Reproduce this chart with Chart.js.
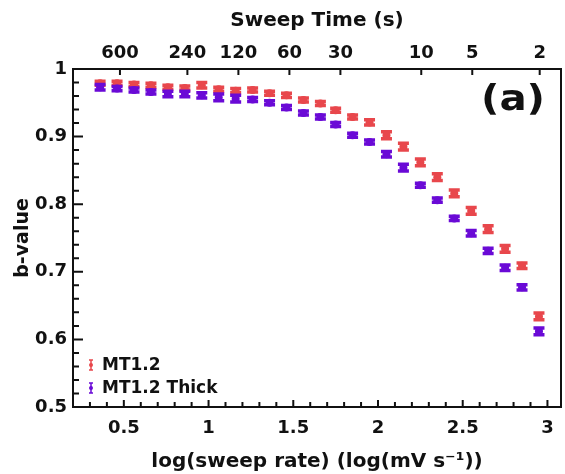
<!DOCTYPE html>
<html>
<head>
<meta charset="utf-8">
<script src="https://cdn.jsdelivr.net/npm/chart.js@4.4.0/dist/chart.umd.min.js"></script>
<style>
  html, body { margin: 0; padding: 0; background: #fff; }
  #wrap { width: 565px; height: 474px; }
</style>
</head>
<body>
<div id="wrap"><canvas id="bplot"></canvas></div>
<script>
// log10 of the sweep rate (mV/s)
var logRate = [0.36, 0.46, 0.56, 0.66, 0.76, 0.86, 0.96, 1.06, 1.16, 1.26, 1.36, 1.46, 1.56, 1.66,
  1.75, 1.85, 1.95, 2.05, 2.15, 2.25, 2.35, 2.45, 2.55, 2.65, 2.75, 2.85, 2.95];

// b-values and their errors
var bMT12 = [0.979, 0.979, 0.977, 0.976, 0.973, 0.972, 0.976, 0.970, 0.968, 0.969, 0.964, 0.961, 0.954, 0.949,
  0.939, 0.929, 0.921, 0.902, 0.885, 0.862, 0.840, 0.816, 0.790, 0.763, 0.734, 0.709, 0.634];
var errMT12 = [0.003, 0.003, 0.003, 0.003, 0.003, 0.003, 0.004, 0.003, 0.003, 0.003, 0.003, 0.003, 0.003, 0.003,
  0.003, 0.003, 0.004, 0.005, 0.005, 0.005, 0.005, 0.005, 0.005, 0.005, 0.005, 0.004, 0.005];
var bThick = [0.973, 0.971, 0.969, 0.966, 0.963, 0.963, 0.961, 0.958, 0.956, 0.955, 0.950, 0.943, 0.935, 0.929,
  0.918, 0.902, 0.892, 0.874, 0.854, 0.828, 0.806, 0.779, 0.757, 0.731, 0.706, 0.677, 0.612];
var errThick = [0.004, 0.003, 0.003, 0.003, 0.004, 0.004, 0.004, 0.005, 0.005, 0.003, 0.003, 0.003, 0.003, 0.003,
  0.003, 0.003, 0.003, 0.004, 0.005, 0.003, 0.003, 0.003, 0.004, 0.004, 0.004, 0.004, 0.005];

// top axis: sweep time for a 1800 mV window
var sweepTimes = [600, 240, 120, 60, 30, 10, 5, 2];
var windowMV = 1800;

var RED = '#e8474c', PURPLE = '#6a0ad6', INK = '#111';
var FONT = 'DejaVu Sans';

function isMajor(v, step) {
  return Math.abs(v / step - Math.round(v / step)) < 1e-6;
}

function points(ys) {
  return logRate.map(function(x, i) { return { x: x, y: ys[i] }; });
}

// vertical error bars with wide caps, drawn under each dataset's points
var errorBars = {
  id: 'errorBars',
  beforeDatasetDraw: function(chart, args) {
    var ds = chart.data.datasets[args.index];
    var ys = chart.scales.y, ctx = chart.ctx;
    ctx.save();
    ctx.strokeStyle = ds.backgroundColor;
    ctx.lineCap = 'butt';
    args.meta.data.forEach(function(el, i) {
      var v = ds.data[i].y, e = ds.errors[i];
      var top = ys.getPixelForValue(v + e), bot = ys.getPixelForValue(v - e);
      ctx.lineWidth = 4;
      ctx.beginPath(); ctx.moveTo(el.x, top); ctx.lineTo(el.x, bot); ctx.stroke();
      ctx.lineWidth = 3.5;
      ctx.beginPath();
      ctx.moveTo(el.x - 5.5, top); ctx.lineTo(el.x + 5.5, top);
      ctx.moveTo(el.x - 5.5, bot); ctx.lineTo(el.x + 5.5, bot);
      ctx.stroke();
    });
    ctx.restore();
  }
};

// box frame plus inward tick marks on three sides
var frame = {
  id: 'frame',
  afterDraw: function(chart) {
    var ctx = chart.ctx, a = chart.chartArea;
    ctx.save();
    ctx.strokeStyle = INK;
    ctx.lineWidth = 2;
    ctx.beginPath();
    chart.scales.y.ticks.forEach(function(t) {
      var y = chart.scales.y.getPixelForValue(t.value);
      var len = isMajor(t.value, 0.1) ? 10 : 6;
      ctx.moveTo(a.left, y); ctx.lineTo(a.left + len, y);
    });
    chart.scales.x.ticks.forEach(function(t) {
      var x = chart.scales.x.getPixelForValue(t.value);
      var len = isMajor(t.value, 0.5) ? 7 : 5;
      ctx.moveTo(x, a.bottom); ctx.lineTo(x, a.bottom - len);
    });
    chart.scales.x2.ticks.forEach(function(t) {
      var x = chart.scales.x2.getPixelForValue(t.value);
      ctx.moveTo(x, a.top); ctx.lineTo(x, a.top + 6);
    });
    ctx.stroke();
    ctx.strokeRect(a.left, a.top, a.right - a.left, a.bottom - a.top);
    ctx.restore();
  }
};

// legend in the lower left corner and the panel letter
var notes = {
  id: 'notes',
  afterDraw: function(chart) {
    var ctx = chart.ctx, a = chart.chartArea;
    ctx.save();
    chart.data.datasets.forEach(function(ds, i) {
      var x = a.left + 18, y = a.bottom - 42 + i * 23;
      ctx.strokeStyle = ds.backgroundColor;
      ctx.fillStyle = ds.backgroundColor;
      ctx.lineWidth = 1.5;
      ctx.beginPath();
      ctx.moveTo(x, y - 5); ctx.lineTo(x, y + 5);
      ctx.moveTo(x - 2, y - 5); ctx.lineTo(x + 2, y - 5);
      ctx.moveTo(x - 2, y + 5); ctx.lineTo(x + 2, y + 5);
      ctx.stroke();
      ctx.beginPath(); ctx.arc(x, y, 2, 0, Math.PI * 2); ctx.fill();
      ctx.fillStyle = INK;
      ctx.font = 'bold 17px "' + FONT + '"';
      ctx.textAlign = 'left';
      ctx.textBaseline = 'middle';
      ctx.fillText(ds.label, x + 11, y + 1);
    });
    ctx.fillStyle = INK;
    ctx.font = 'bold 36px "' + FONT + '"';
    ctx.textAlign = 'center';
    ctx.textBaseline = 'middle';
    ctx.translate(a.right - 48, a.top + 32);
    ctx.scale(1.12, 1);
    ctx.fillText('(a)', 0, 0);
    ctx.restore();
  }
};

var tickFont = { family: FONT, size: 18, weight: 'bold' };
var titleFont = { family: FONT, size: 20, weight: 'bold' };

new Chart(document.getElementById('bplot'), {
  type: 'scatter',
  data: {
    datasets: [{
      label: 'MT1.2',
      data: points(bMT12),
      errors: errMT12,
      backgroundColor: RED,
      borderWidth: 0,
      pointRadius: 4,
      order: 2
    }, {
      label: 'MT1.2 Thick',
      data: points(bThick),
      errors: errThick,
      backgroundColor: PURPLE,
      borderWidth: 0,
      pointRadius: 4,
      order: 1
    }]
  },
  options: {
    responsive: true,
    maintainAspectRatio: false,
    animation: false,
    layout: { padding: { top: 0, right: 2, bottom: 0, left: 0 } },
    plugins: { legend: { display: false }, tooltip: { enabled: false } },
    scales: {
      x: {
        type: 'linear', position: 'bottom', min: 0.2, max: 3.08,
        afterBuildTicks: function(s) {
          var t = [];
          for (var i = 3; i <= 30; i++) t.push({ value: i / 10 });
          s.ticks = t;
        },
        afterFit: function(s) { s.height = 67; },
        grid: { display: false, drawTicks: false },
        border: { display: false },
        ticks: {
          autoSkip: false, maxRotation: 0, padding: 11, color: INK, font: tickFont,
          callback: function(v) { return isMajor(v, 0.5) ? String(Math.round(v * 10) / 10) : ''; }
        },
        title: { display: true, text: 'log(sweep rate) (log(mV s⁻¹))', color: INK, font: titleFont,
          padding: { top: 0, bottom: 0 } }
      },
      x2: {
        type: 'linear', position: 'top', min: 0.2, max: 3.08,
        afterBuildTicks: function(s) {
          s.ticks = sweepTimes.map(function(t) { return { value: Math.log10(windowMV / t) }; });
        },
        afterFit: function(s) { s.height = 69; },
        grid: { display: false, drawTicks: false },
        border: { display: false },
        ticks: {
          autoSkip: false, maxRotation: 0, padding: 5, color: INK, font: tickFont,
          callback: function(v, i) { return String(sweepTimes[i]); }
        },
        title: { display: true, text: 'Sweep Time (s)', color: INK, font: titleFont,
          padding: { top: 9, bottom: 0 } }
      },
      y: {
        type: 'linear', min: 0.5, max: 1,
        afterBuildTicks: function(s) {
          var t = [];
          for (var i = 0; i <= 25; i++) t.push({ value: Math.round((0.5 + i * 0.02) * 100) / 100 });
          s.ticks = t;
        },
        afterFit: function(s) { s.width = 73; },
        grid: { display: false, drawTicks: false },
        border: { display: false },
        ticks: {
          autoSkip: false, padding: 6, color: INK, font: tickFont,
          callback: function(v) { return isMajor(v, 0.1) ? String(Math.round(v * 10) / 10) : ''; }
        },
        title: { display: true, text: 'b-value', color: INK, font: { family: FONT, size: 19, weight: 'bold' },
          padding: { top: 12, bottom: 0 } }
      }
    }
  },
  plugins: [errorBars, frame, notes]
});
</script>
</body>
</html>
